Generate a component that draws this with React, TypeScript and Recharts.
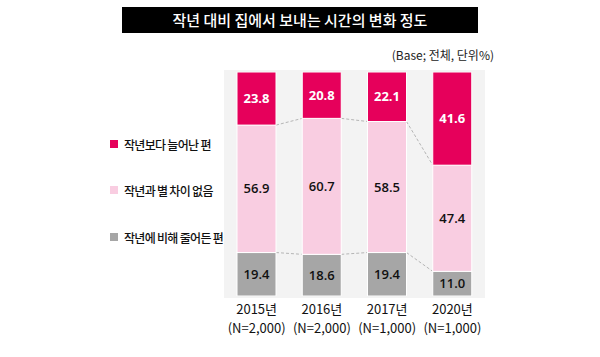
import React from "react";
import { BarChart, Bar, XAxis, YAxis, LabelList } from "recharts";

// ---- data ----
const years = ["2015년", "2016년", "2017년", "2020년"];
const sampleSizes = ["(N=2,000)", "(N=2,000)", "(N=1,000)", "(N=1,000)"];
const increased = [23.8, 20.8, 22.1, 41.6];
const same = [56.9, 60.7, 58.5, 47.4];
const decreased = [19.4, 18.6, 19.4, 11.0];
const seriesNames = ["작년보다 늘어난 편", "작년과 별 차이 없음", "작년에 비해 줄어든 편"];
const titleText = "작년 대비 집에서 보내는 시간의 변화 정도";
const baseText = "(Base; 전체, 단위%)";

const data = years.map((y, i) => ({
  year: y,
  n: sampleSizes[i],
  dec: decreased[i],
  same: same[i],
  inc: increased[i],
}));

// ---- layout ----
const W = 600;
const H = 357;
const PLOT_L = 224;
const PLOT_R = 485;
const PLOT_T = 72;
const PLOT_B = 296;
const STEP = (PLOT_R - PLOT_L) / years.length;

const C_INC = "#E6005B";
const C_SAME = "#F9CDE1";
const C_DEC = "#A6A6A6";
const FONT = "'Noto Sans CJK KR', 'Noto Sans', sans-serif";
const NUMFONT = "'Open Sans', 'Noto Sans', sans-serif";

type Key = "dec" | "same" | "inc";
const order: Key[] = ["dec", "same", "inc"];

function makeShape(key: Key, fill: string, connector: boolean) {
  return (props: any) => {
    const { x, y, width, height, index, payload } = props;
    const val = payload[key] as number;
    const els: React.ReactNode[] = [
      <rect key="r" x={x} y={y} width={width} height={height} fill={fill} stroke="#fff" strokeWidth={1} />,
    ];
    if (connector && index < data.length - 1 && val > 0) {
      const ppu = height / val;
      const idx = order.indexOf(key);
      let below = 0;
      for (let k = 0; k < idx; k++) below += payload[order[k]];
      const y0 = y + height + below * ppu;
      const next = data[index + 1] as any;
      let nextTopVal = 0;
      for (let k = 0; k <= idx; k++) nextTopVal += next[order[k]];
      const ny = y0 - nextTopVal * ppu;
      els.push(
        <line
          key="l"
          x1={x + width}
          y1={y}
          x2={x + STEP}
          y2={ny}
          stroke="#b5b5b5"
          strokeWidth={1}
          strokeDasharray="3 2"
        />
      );
    }
    return <g>{els}</g>;
  };
}

const XTick = (props: any) => {
  const { x, y, payload, index } = props;
  return (
    <g>
      <text x={x} y={y + 10} textAnchor="middle" fontFamily={FONT} fontSize={13} fill="#111">
        {payload.value}
      </text>
      <text x={x} y={y + 29} textAnchor="middle" fontFamily={FONT} fontSize={13} fill="#111">
        {sampleSizes[index]}
      </text>
    </g>
  );
};

const legendColors = [C_INC, C_SAME, C_DEC];
const legendY = [144, 190, 237];

export default function App() {
  return (
    <div style={{ position: "relative", width: W, height: H, background: "#fff", fontFamily: FONT }}>
      <style>{`body{margin:0}`}</style>
      {/* title */}
      <div
        style={{
          position: "absolute",
          left: 122,
          top: 7,
          width: 356,
          height: 26,
          background: "#000",
          color: "#fff",
          fontSize: 15,
          fontWeight: 500,
          lineHeight: "26px",
          textAlign: "center",
          letterSpacing: 0,
        }}
      >
        {titleText}
      </div>
      <div
        style={{
          position: "absolute",
          left: 380,
          top: 46,
          width: 114,
          textAlign: "right",
          fontSize: 12,
          color: "#222",
          lineHeight: "18px",
        }}
      >
        {baseText}
      </div>
      {/* legend */}
      {seriesNames.map((s, i) => (
        <div key={s} style={{ position: "absolute", left: 110, top: legendY[i] - 9, height: 18, display: "flex", alignItems: "center" }}>
          <div style={{ width: 8, height: 8, background: legendColors[i], marginRight: 6 }} />
          <div style={{ fontSize: 12, color: "#111", fontWeight: 500, whiteSpace: "nowrap", letterSpacing: -0.7 }}>{s}</div>
        </div>
      ))}
      {/* panel */}
      <div style={{ position: "absolute", left: PLOT_L, top: 70, width: PLOT_R - PLOT_L, height: 228, background: "#F3F3F3" }} />
      <div style={{ position: "absolute", left: 0, top: 0 }}>
        <BarChart
          width={W}
          height={H}
          data={data}
          margin={{ top: PLOT_T, left: PLOT_L, right: W - PLOT_R, bottom: 0 }}
          barSize={39}
        >
          <XAxis
            dataKey="year"
            axisLine={false}
            tickLine={false}
            height={H - PLOT_B}
            tick={<XTick />}
            interval={0}
          />
          <YAxis hide domain={[0, 100]} allowDataOverflow />
          <Bar dataKey="dec" stackId="a" isAnimationActive={false} shape={makeShape("dec", C_DEC, true)}>
            <LabelList dataKey="dec" position="center" formatter={(v: any) => Number(v).toFixed(1)} fill="#111" fontSize={13} fontWeight={600} fontFamily={NUMFONT} />
          </Bar>
          <Bar dataKey="same" stackId="a" isAnimationActive={false} shape={makeShape("same", C_SAME, true)}>
            <LabelList dataKey="same" position="center" formatter={(v: any) => Number(v).toFixed(1)} fill="#111" fontSize={13} fontWeight={600} fontFamily={NUMFONT} />
          </Bar>
          <Bar dataKey="inc" stackId="a" isAnimationActive={false} shape={makeShape("inc", C_INC, false)}>
            <LabelList dataKey="inc" position="center" formatter={(v: any) => Number(v).toFixed(1)} fill="#fff" fontSize={13} fontWeight={700} fontFamily={NUMFONT} />
          </Bar>
        </BarChart>
      </div>
    </div>
  );
}
